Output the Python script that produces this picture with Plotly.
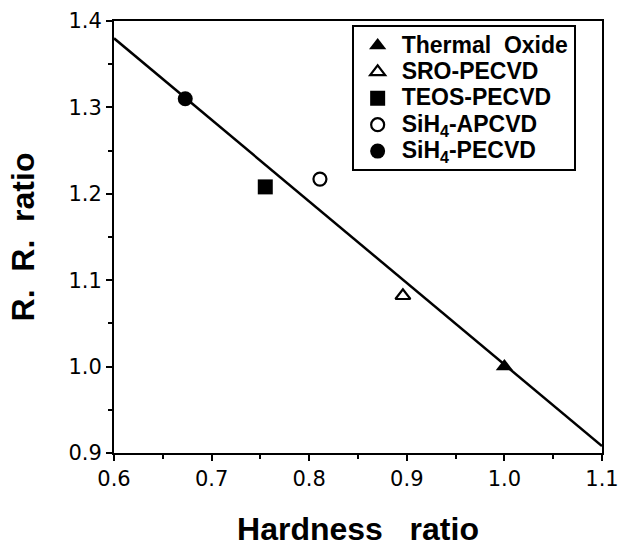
import plotly.graph_objects as go

# Data
series_names = ["Thermal\u00a0\u00a0Oxide", "SRO-PECVD", "TEOS-PECVD",
                "SiH<sub>4</sub>-APCVD", "SiH<sub>4</sub>-PECVD"]
hardness_ratio = [1.000, 0.896, 0.755, 0.811, 0.673]
rr_ratio = [1.000, 1.082, 1.208, 1.217, 1.310]
symbols = ["triangle-up", "triangle-up-open", "square", "circle-open", "circle"]

fit_x = [0.6, 1.1]
fit_y = [1.380, 0.908]

x_ticks = [0.6, 0.7, 0.8, 0.9, 1.0, 1.1]
y_ticks = [0.9, 1.0, 1.1, 1.2, 1.3, 1.4]

TITLE_FONT = dict(family="Liberation Sans, Arial, sans-serif", size=32, weight="bold", color="black")

fig = go.Figure()
fig.add_trace(go.Scatter(x=fit_x, y=fit_y, mode="lines",
                         line=dict(color="black", width=2.5),
                         showlegend=False, hoverinfo="skip"))
for name, hx, ry, sym in zip(series_names, hardness_ratio, rr_ratio, symbols):
    is_open = sym.endswith("open")
    fig.add_trace(go.Scatter(
        x=[hx], y=[ry], mode="markers",
        name=f"<span style='font-size:23px'>{name}</span>",
        marker=dict(symbol=sym, size=13 if is_open else 15, color="black",
                    line=dict(color="black", width=2.2 if is_open else 0)),
    ))

axis_common = dict(
    showline=True, linecolor="black", linewidth=2, mirror=True,
    ticks="outside", ticklen=6, tickwidth=2, tickcolor="black",
    showgrid=False, zeroline=False, ticklabeloverflow="allow", automargin=False,
    tickfont=dict(family="DejaVu Sans", size=21, color="black"),
)

fig.update_layout(
    width=618, height=547,
    margin=dict(l=114, r=16, t=21, b=94),
    paper_bgcolor="white", plot_bgcolor="white",
    font=dict(family="DejaVu Sans", color="black"),
    xaxis=dict(range=[0.6, 1.1], tickvals=x_ticks,
               ticktext=[f"{v:.1f}" for v in x_ticks],
               minor=dict(dtick=0.05, ticks="outside", ticklen=4, tickwidth=2, tickcolor="black"),
               title=dict(text="Hardness\u00a0\u00a0\u00a0ratio", standoff=28, font=TITLE_FONT),
               **axis_common),
    yaxis=dict(range=[0.9, 1.4], tickvals=y_ticks,
               ticktext=[f"{v:.1f}" for v in y_ticks],
               minor=dict(dtick=0.05, ticks="outside", ticklen=4, tickwidth=2, tickcolor="black"),
               title=dict(text="\u00a0\u00a0\u00a0R.\u00a0\u00a0R.\u00a0\u00a0ratio", standoff=24, font=TITLE_FONT),
               **axis_common),
    legend=dict(x=0.487, y=0.99, xanchor="left", yanchor="top",
                bgcolor="white", bordercolor="black", borderwidth=2,
                font=dict(family="Liberation Sans, Arial, sans-serif", size=18, weight="bold", color="black"),
                tracegroupgap=0, itemwidth=38),
    showlegend=True,
)

fig.write_html("out.html")
